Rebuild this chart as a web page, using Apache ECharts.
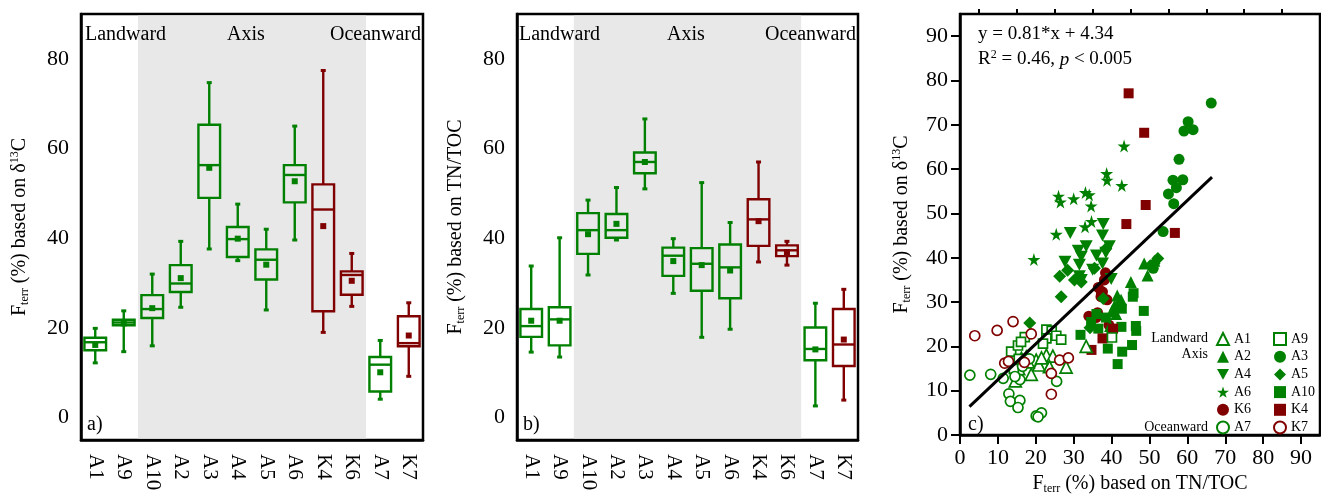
<!DOCTYPE html>
<html>
<head>
<meta charset="utf-8">
<script src="https://cdn.jsdelivr.net/npm/echarts@6/dist/echarts.min.js"></script>
<style>
html,body{margin:0;padding:0;background:#fff}
#main{width:1321px;height:500px}
</style>
</head>
<body>
<div id="main"></div>
<script>
// sites along the estuary, K sites drawn in dark red
const sites = ['A1','A9','A10','A2','A3','A4','A5','A6','K4','K6','A7','K7']
const axisZone = ['A10','K6']
// box stats: [min, q1, median, q3, max]
const boxD13C = [
  [12.2,15.0,16.8,17.8,19.9],[14.7,20.6,21.2,21.8,23.8],[16.0,22.2,24.2,27.3,32.0],
  [24.6,28.0,29.9,34.0,39.3],[37.6,49.0,56.3,65.3,74.7],[35.0,35.8,39.8,42.5,47.6],
  [24.0,30.8,35.2,37.5,42.0],[39.6,48.0,54.1,56.3,65.0],[19.0,23.7,46.4,52.0,77.4],
  [24.8,27.4,31.8,32.6,36.6],[4.1,5.8,11.8,13.5,17.2],[9.2,15.9,16.6,22.6,25.6]
]
const meanD13C = [16.2,21.0,24.4,31.1,55.7,39.9,34.1,52.7,42.7,30.5,10.1,18.3]
const boxTN = [
  [14.6,18.0,20.4,24.2,33.8],[13.5,16.1,21.9,24.6,40.1],[31.8,36.5,41.8,45.6,48.5],
  [39.6,40.1,41.8,45.4,51.3],[51.0,54.5,57.0,59.1,66.6],[27.7,31.6,36.1,37.9,39.9],
  [17.9,28.3,34.3,37.8,52.4],[19.7,26.6,33.5,38.6,43.5],[34.7,38.3,44.2,48.7,57.0],
  [34.0,36.0,37.3,38.4,39.3],[2.6,12.8,15.3,20.1,25.5],[3.9,11.5,16.3,24.2,28.6]
]
const meanTN = [21.6,21.6,40.9,43.2,57.0,34.9,34.0,32.8,43.8,36.9,15.2,17.4]
const yTicksAB = [0,20,40,60,80]
const yMinorAB = [10,30,50,70]
const ticksC = [0,10,20,30,40,50,60,70,80,90]
const minorC = [5,15,25,35,45,55,65,75,85]

// scatter points [TN/TOC, d13C]
const ptsA1 = [[33.3,20.0],[14.6,12.2],[18.8,13.7],[16.2,17.3],[17.5,17.6],[20.1,16.9],[22.8,18.0],[24.5,17.8],[23.6,15.4],[28.0,15.3],[20.8,15.8],[18.0,16.5],[21.5,17.4],[15.5,15.0]]
const ptsA9 = [[13.5,18.8],[15.3,20.2],[17.1,22.1],[16.1,21.0],[22.8,23.8],[24.2,23.5],[25.4,22.4],[26.7,21.5],[22.8,21.8],[40.1,22.0],[14.2,14.9],[21.9,20.6],[15.5,17.2]]
const ptsA2 = [[48.6,38.7],[49.5,36.0],[45.1,34.5],[51.3,39.3],[41.5,31.5],[40.1,28.0],[42.5,30.5],[40.8,29.2],[39.6,24.6],[41.2,27.3],[41.8,29.9]]
const ptsA3 = [[66.3,74.9],[60.2,70.7],[59.1,68.6],[61.5,68.9],[57.8,62.2],[56.2,57.5],[58.8,57.6],[57.1,55.8],[55.0,54.4],[56.4,52.2],[53.6,45.9],[51.0,37.6]]
const ptsA4 = [[29.1,45.6],[37.8,47.6],[37.6,45.0],[33.3,42.6],[31.2,41.6],[32.0,40.2],[39.4,42.6],[38.5,41.1],[31.5,38.4],[37.6,38.7],[27.7,39.1],[31.5,35.8],[32.0,35.0],[35.0,37.3],[39.9,35.2],[36.0,40.5]]
const ptsA5 = [[18.4,25.3],[26.3,35.8],[26.7,31.2],[28.4,37.2],[30.2,35.0],[32.0,34.5],[34.3,24.2],[35.5,37.6],[37.8,30.8],[38.5,42.0],[50.2,38.2],[51.2,38.7],[52.2,39.8]]
const ptsA6 = [[43.3,65.2],[38.7,59.0],[38.8,57.5],[42.7,56.3],[26.0,53.9],[26.5,52.6],[30.0,53.3],[33.1,54.7],[34.1,54.2],[34.6,51.7],[33.0,47.0],[34.7,48.2],[25.4,45.3],[19.5,39.6]]
const ptsA10 = [[31.8,22.6],[39.0,19.5],[41.6,16.0],[42.8,18.8],[45.4,20.3],[42.6,24.4],[46.4,24.6],[46.5,23.5],[48.5,28.0],[45.8,32.0],[45.6,31.2],[42.7,28.5],[34.6,25.5],[36.5,24.0],[38.5,26.5],[40.0,22.2],[36.0,27.3]]
const ptsK6 = [[34.0,26.8],[35.9,26.5],[36.3,27.6],[37.3,32.1],[37.2,31.2],[38.4,36.6],[39.3,24.8],[36.5,33.3],[38.1,35.0],[37.6,32.3],[38.8,30.5]]
const ptsK4 = [[44.5,77.1],[48.6,68.2],[49.0,51.9],[43.9,47.6],[56.7,45.6],[40.4,24.0],[37.6,21.8],[34.7,19.2]]
const ptsA7 = [[2.6,13.5],[8.1,13.7],[11.4,12.8],[12.9,9.3],[13.3,7.6],[15.8,7.8],[15.3,6.2],[15.8,12.5],[20.1,4.3],[21.5,5.0],[20.6,4.1],[25.5,12.1],[16.5,15.5],[18.3,17.2],[14.5,13.2]]
const ptsK7 = [[3.9,22.4],[9.8,23.6],[14.0,25.6],[18.8,22.8],[11.8,16.2],[12.8,16.6],[24.1,13.9],[24.1,9.2],[26.3,16.9],[28.6,17.4],[17.0,16.4]]
// fitted line y = 0.81*x + 4.34, ends
const fitX = [2.5,66.5]
const fitY = [6.4,58.2]

const GREEN = '#008000'
const RED = '#800000'
const SERIF = '"Liberation Serif","Times New Roman",serif'
const STAR = 'path://M50,0L61,35L98,35L68,57L79,91L50,70L21,91L32,57L2,35L39,35Z'
const INVTRI = 'path://M0,0L10,0L5,9Z'

function siteColor(i){
	return sites[i].charAt(0) == 'K' ? RED : GREEN
}

function shadeItem(params, api){
	const band = api.size([1,0])[0]
	const x0 = api.coord([api.value(0),0])[0] - band / 2
	const x1 = api.coord([api.value(1),0])[0] + band / 2
	const cs = params.coordSys
	return {
		type:'rect',
		shape:{x:x0, y:cs.y + 1.5, width:x1 - x0, height:cs.height - 3},
		style:{fill:'#e8e8e8'}
	}
}

function boxItem(params, api){
	const i = api.value(0)
	const x = api.coord([i,0])[0]
	const w = api.size([1,0])[0] * 0.76
	const c = siteColor(i)
	const y = k => api.coord([i, api.value(k)])[1]
	const st = {stroke:c, lineWidth:2.4, fill:'none'}
	return {
		type:'group',
		children:[
			{type:'line', shape:{x1:x, y1:y(5), x2:x, y2:y(4)}, style:st},
			{type:'line', shape:{x1:x, y1:y(2), x2:x, y2:y(1)}, style:st},
			{type:'rect', shape:{x:x - w / 2, y:y(4), width:w, height:y(2) - y(4)}, style:st},
			{type:'line', shape:{x1:x - w / 2, y1:y(3), x2:x + w / 2, y2:y(3)}, style:st},
			{type:'line', shape:{x1:x - 2.5, y1:y(5), x2:x + 2.5, y2:y(5)}, style:{stroke:c, lineWidth:3}},
			{type:'line', shape:{x1:x - 2.5, y1:y(1), x2:x + 2.5, y2:y(1)}, style:{stroke:c, lineWidth:3}}
		]
	}
}

const richName = {
	t:{fontSize:20, fontFamily:SERIF, color:'#000'},
	s:{fontSize:12, fontFamily:SERIF, color:'#000', padding:[10,0,0,0]},
	u:{fontSize:12, fontFamily:SERIF, color:'#000', padding:[0,0,10,0]}
}

function catAxis(gi){
	return {
		type:'category', gridIndex:gi, data:sites, boundaryGap:true,
		axisLine:{onZero:false, lineStyle:{color:'#000', width:2.5}},
		axisTick:{alignWithLabel:true, interval:0, length:9, lineStyle:{color:'#000', width:2}},
		axisLabel:{rotate:-90, interval:0, margin:14, fontSize:21, fontFamily:SERIF, color:'#000'}
	}
}

function valAxis(gi, min, max, ticks, name, gap){
	return {
		type:'value', gridIndex:gi, min:min, max:max,
		name:name, nameLocation:'middle', nameGap:gap,
		nameTextStyle:{fontSize:20, fontFamily:SERIF, color:'#000', rich:richName},
		axisLine:{show:true, onZero:false, lineStyle:{color:'#000', width:2.5}},
		axisTick:{customValues:ticks, length:9, lineStyle:{color:'#000', width:2}},
		axisLabel:{customValues:ticks, margin:12, fontSize:22, fontFamily:SERIF, color:'#000'},
		splitLine:{show:false}
	}
}

function minorAxis(gi, min, max, ticks){
	return {
		type:'value', gridIndex:gi, min:min, max:max,
		axisLine:{show:false, onZero:false},
		axisTick:{customValues:ticks, length:5, lineStyle:{color:'#000', width:2}},
		axisLabel:{show:false},
		splitLine:{show:false}
	}
}

const yNameD13C = '{t|F}{s|terr}{t| (%) based on δ}{u|13}{t|C}'
const yNameTN = '{t|F}{s|terr}{t| (%) based on TN/TOC}'

function boxPanel(gi, box, mean){
	const zone = [[sites.indexOf(axisZone[0]), sites.indexOf(axisZone[1])]]
	return [
		{type:'custom', xAxisIndex:gi, yAxisIndex:gi * 2, data:zone, renderItem:shadeItem, silent:true, z:1},
		{type:'custom', xAxisIndex:gi, yAxisIndex:gi * 2, data:box.map((b,i) => [i].concat(b)),
			encode:{x:0, y:[1,2,3,4,5]}, renderItem:boxItem, z:3},
		{type:'scatter', xAxisIndex:gi, yAxisIndex:gi * 2, symbol:'rect', symbolSize:6, z:4,
			data:mean.map((m,i) => ({value:[i,m], itemStyle:{color:siteColor(i), opacity:1}}))}
	]
}

function pts(name, data, symbol, size, color, open){
	return {
		type:'scatter', name:name, xAxisIndex:2, yAxisIndex:4, data:data,
		symbol:symbol, symbolSize:size,
		itemStyle:open ? {color:'#fff', borderColor:color, borderWidth:1.7, opacity:1} : {color:color, opacity:1}
	}
}

const seriesC = [
	pts('K6', ptsK6, 'circle', 11, RED, false),
	pts('A10', ptsA10, 'rect', 10, GREEN, false),
	pts('A5', ptsA5, 'diamond', 13, GREEN, false),
	pts('A4', ptsA4, INVTRI, [13,12], GREEN, false),
	pts('A2', ptsA2, 'triangle', 12, GREEN, false),
	pts('A3', ptsA3, 'circle', 11, GREEN, false),
	pts('A6', ptsA6, STAR, 13, GREEN, false),
	pts('K4', ptsK4, 'rect', 10, RED, false),
	pts('A1', ptsA1, 'triangle', 12, GREEN, true),
	pts('A9', ptsA9, 'rect', 9, GREEN, true),
	pts('A7', ptsA7, 'circle', 10, GREEN, true),
	pts('K7', ptsK7, 'circle', 10, RED, true),
	{type:'line', xAxisIndex:2, yAxisIndex:4, data:fitX.map((x,i) => [x, fitY[i]]),
		symbol:'none', lineStyle:{color:'#000', width:3}, z:10, silent:true}
]

function txt(text, x, y, align, size){
	return {type:'text', x:x, y:y, z:20, style:{text:text, fill:'#000', font:size + 'px ' + SERIF, align:align, verticalAlign:'middle'}}
}

const legendBase = {
	orient:'vertical', top:327, itemWidth:12, itemHeight:12, itemGap:3.7, selectedMode:false,
	textStyle:{fontSize:14, fontFamily:SERIF, color:'#000', lineHeight:11}
}

const chart = echarts.init(document.getElementById('main'))
chart.setOption({
	animation:false,
	grid:[
		{left:81, top:14, width:342, height:426, show:true, borderColor:'#000', borderWidth:2.5, backgroundColor:'transparent'},
		{left:517, top:14, width:341, height:426, show:true, borderColor:'#000', borderWidth:2.5, backgroundColor:'transparent'},
		{left:960, top:14, width:360, height:427, show:true, borderColor:'#000', borderWidth:2.5, backgroundColor:'transparent'}
	],
	xAxis:[
		catAxis(0),
		catAxis(1),
		valAxis(2, 0, 95, ticksC, yNameTN, 38),
		minorAxis(2, 0, 95, minorC)
	],
	yAxis:[
		valAxis(0, -5, 90, yTicksAB, yNameD13C, 50),
		minorAxis(0, -5, 90, yMinorAB),
		valAxis(1, -5, 90, yTicksAB, yNameTN, 50),
		minorAxis(1, -5, 90, yMinorAB),
		valAxis(2, 0, 95, ticksC, yNameD13C, 47),
		minorAxis(2, 0, 95, minorC)
	],
	legend:[
		Object.assign({left:1211, data:['A1','A2','A4','A6','K6','A7']}, legendBase),
		Object.assign({left:1268, data:['A9','A3','A5','A10','K4','K7']}, legendBase)
	],
	graphic:[
		txt('Landward', 85, 35, 'left', 20),
		txt('Axis', 246, 35, 'center', 20),
		txt('Oceanward', 421, 35, 'right', 20),
		txt('Landward', 519, 35, 'left', 20),
		txt('Axis', 686, 35, 'center', 20),
		txt('Oceanward', 856, 35, 'right', 20),
		txt('a)', 87, 425, 'left', 20),
		txt('b)', 523, 425, 'left', 20),
		txt('c)', 968, 425, 'left', 20),
		txt('Landward', 1208, 338, 'right', 14),
		txt('Axis', 1208, 354, 'right', 14),
		txt('Oceanward', 1208, 427, 'right', 14),
		{type:'text', x:978, y:22, z:20, style:{
			text:'y = 0.81*x + 4.34\nR{u|2} = 0.46, {i|p} < 0.005',
			fill:'#000', font:'19px ' + SERIF, lineHeight:25,
			rich:{u:{fontSize:12, fontFamily:SERIF, padding:[0,0,9,0]}, i:{fontSize:19, fontFamily:SERIF, fontStyle:'italic'}}
		}}
	],
	series:boxPanel(0, boxD13C, meanD13C).concat(boxPanel(1, boxTN, meanTN), seriesC)
})
</script>
</body>
</html>
